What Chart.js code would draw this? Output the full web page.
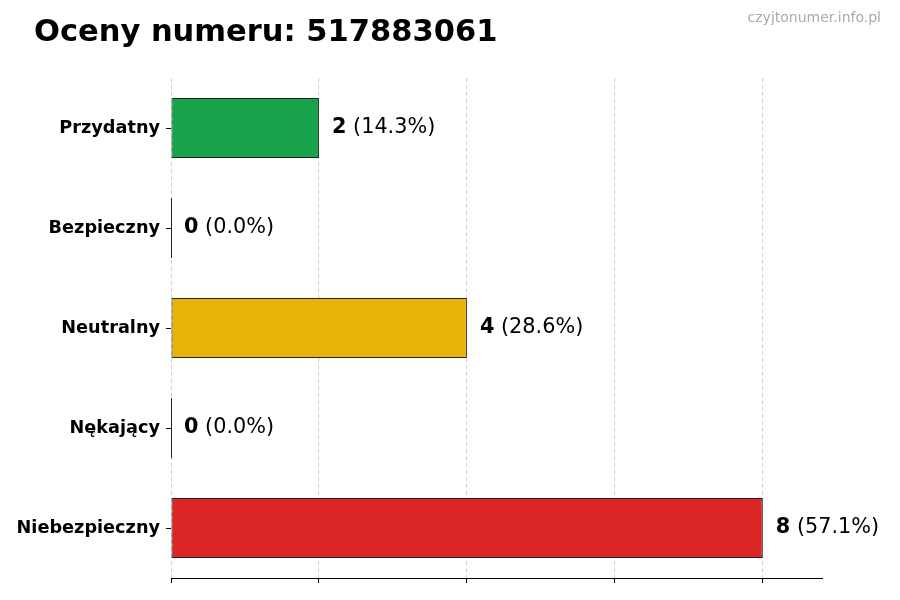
<!DOCTYPE html>
<html>
<head>
<meta charset="utf-8">
<script src="https://cdn.jsdelivr.net/npm/chart.js@4/dist/chart.umd.min.js"></script>
<style>
html,body{margin:0;padding:0;background:#fff;}
#wrap{width:900px;height:600px;position:relative;}
</style>
</head>
<body>
<div id="wrap"><canvas id="c" width="900" height="600"></canvas></div>
<script>
const titleText = 'Oceny numeru: 517883061';
const watermark = 'czyjtonumer.info.pl';
const categories = ['Przydatny', 'Bezpieczny', 'Neutralny', 'Nękający', 'Niebezpieczny'];
const values = [2, 0, 4, 0, 8];
const barColors = ['#16a34a', '#2563eb', '#eab308', '#9333ea', '#dc2626'];
const xTicks = [0, 2, 4, 6, 8];
const xMax = 8.8;

const FONT = '"DejaVu Sans", Verdana, sans-serif';
const total = values.reduce((a, b) => a + b, 0);

const overlay = {
  id: 'overlay',
  afterDatasetsDraw(chart) {
    const ctx = chart.ctx;
    const meta = chart.getDatasetMeta(0);
    ctx.save();
    meta.data.forEach((el, i) => {
      const v = values[i];
      if (v === 0) {
        ctx.strokeStyle = '#222';
        ctx.lineWidth = 1;
        ctx.beginPath();
        ctx.moveTo(Math.round(el.x) + 0.5, el.y - el.height / 2);
        ctx.lineTo(Math.round(el.x) + 0.5, el.y + el.height / 2);
        ctx.stroke();
      }
      const pct = total ? (v / total * 100).toFixed(1) : '0.0';
      let x = el.x + 13;
      const y = el.y;
      ctx.textBaseline = 'middle';
      ctx.textAlign = 'left';
      ctx.fillStyle = '#000';
      ctx.font = 'bold 20.8px ' + FONT;
      const s1 = String(v);
      ctx.fillText(s1, x, y);
      x += ctx.measureText(s1).width;
      ctx.font = '20.8px ' + FONT;
      ctx.fillText(' (' + pct + '%)', x, y);
    });
    ctx.restore();
  },
  afterDraw(chart) {
    const ctx = chart.ctx;
    ctx.save();
    ctx.fillStyle = '#000';
    ctx.font = 'bold 30.5px ' + FONT;
    ctx.textAlign = 'left';
    ctx.textBaseline = 'alphabetic';
    ctx.fillText(titleText, 34, 41);
    ctx.fillStyle = '#aaaaaa';
    ctx.font = '14px ' + FONT;
    ctx.textAlign = 'right';
    ctx.fillText(watermark, 881, 22);
    ctx.restore();
  }
};

const bg = {
  id: 'bg',
  beforeDraw(chart) {
    const ctx = chart.ctx;
    ctx.save();
    ctx.fillStyle = '#fff';
    ctx.fillRect(0, 0, chart.width, chart.height);
    ctx.restore();
  }
};

new Chart(document.getElementById('c'), {
  type: 'bar',
  data: {
    labels: categories,
    datasets: [{
      data: values,
      backgroundColor: barColors,
      borderColor: '#222',
      borderWidth: 1,
      borderSkipped: false,
      barPercentage: 0.6,
      categoryPercentage: 1.0
    }]
  },
  options: {
    indexAxis: 'y',
    responsive: false,
    animation: false,
    devicePixelRatio: 1,
    layout: { padding: { left: 0, right: 78, top: 78, bottom: 16 } },
    plugins: { legend: { display: false }, tooltip: { enabled: false }, title: { display: false } },
    scales: {
      x: {
        min: 0,
        max: xMax,
        z: 1,
        afterBuildTicks(scale) { scale.ticks = xTicks.map(v => ({ value: v })); },
        afterFit(scale) { scale.height = 6; },
        ticks: { display: false },
        grid: { color: 'rgba(0,0,0,0.18)', lineWidth: 1, drawTicks: true, tickLength: 5, tickColor: '#000', tickWidth: 1 },
        border: { display: true, color: '#000', width: 1, dash: [4, 3] }
      },
      y: {
        afterFit(scale) { scale.width = 171; },
        ticks: { color: '#000', font: { family: FONT, weight: 'bold', size: 17.7 }, padding: 6 },
        grid: { offset: false, drawOnChartArea: false, drawTicks: true, tickLength: 5, tickColor: '#000' },
        border: { display: false }
      }
    }
  },
  plugins: [bg, overlay]
});
</script>
</body>
</html>
